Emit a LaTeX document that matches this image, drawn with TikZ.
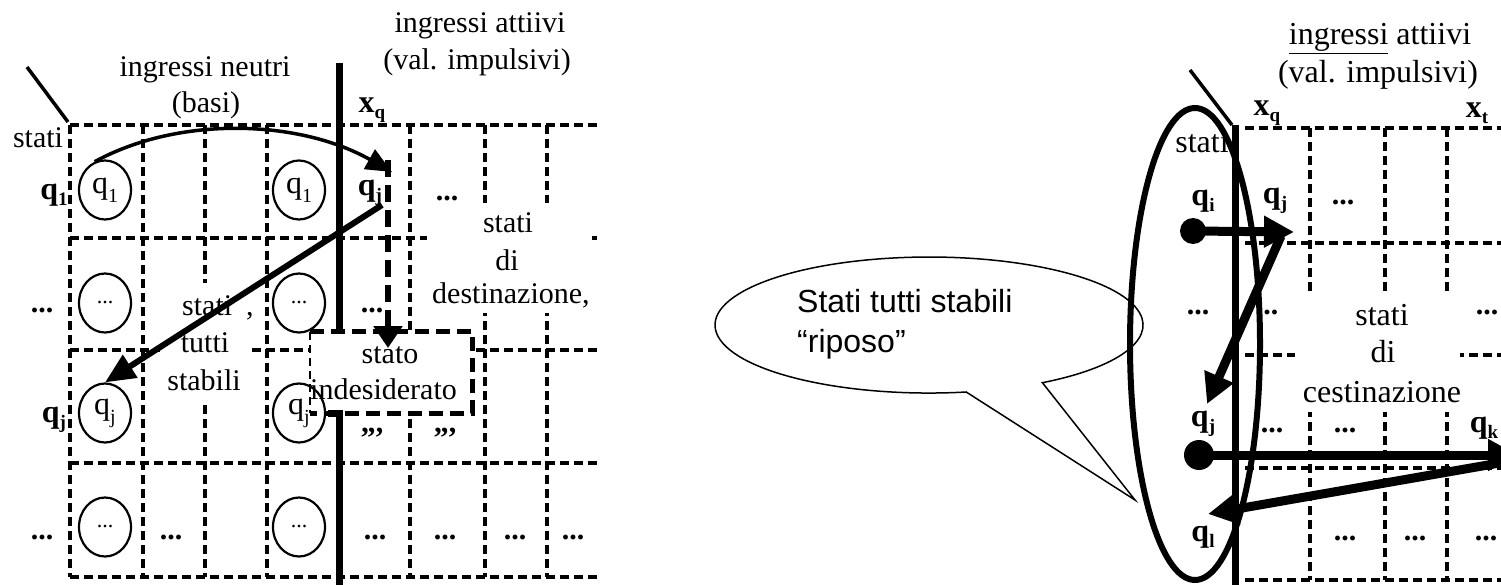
\documentclass[tikz,border=0pt]{standalone}
\usepackage{fontspec}
\setmainfont{Liberation Serif}
\newfontfamily\calloutfont{Liberation Sans}
\usetikzlibrary{arrows.meta,shapes.geometric}

% bold state label with a lowered index, e.g. q_1
\newcommand\qlab[1]{\textbf{q}\raisebox{-6pt}{\fontsize{19}{19}\selectfont\bfseries #1}}
% plain state name inside a state circle
\newcommand\qin[1]{q\raisebox{-9pt}{\fontsize{20}{20}\selectfont #1}}
% bold input label, e.g. x_q
\newcommand\xlab[1]{\textbf{x}\raisebox{-6pt}{\fontsize{19}{19}\selectfont\bfseries #1}}

\begin{document}
\begin{tikzpicture}[x=1pt,y=-1pt,
  gridline/.style={line width=3.6pt, dash pattern=on 9pt off 5pt},
  solidbar/.style={line width=7pt},
  txt/.style={inner sep=0pt, font=\fontsize{30}{32}\selectfont},
  txtr/.style={inner sep=0pt, font=\fontsize{32}{34}\selectfont},
  qbold/.style={inner sep=0pt, font=\fontsize{32}{34}\selectfont},
  dots/.style={inner sep=0pt, font=\fontsize{30}{32}\selectfont\bfseries},
  statenode/.style={draw, ellipse, line width=2.2pt, minimum width=52pt,
    minimum height=59pt, inner sep=0pt, font=\fontsize{32}{32}\selectfont},
  cover/.style={fill=white, draw=none, inner sep=0pt},
  thinarrow/.style={line width=3.5pt, -{Triangle[length=26pt, width=22pt]}},
  midarrow/.style={line width=6pt, -{Triangle[length=30pt, width=26pt]}},
  dasharrow/.style={line width=6pt, dash pattern=on 17pt off 8pt,
    -{Triangle[length=22pt, width=28pt]}},
  fatarrow/.style={line width=9pt, -{Triangle[length=30pt, width=30pt]}},
  tick/.style={line width=3.5pt},
]
\useasboundingbox (0,0) rectangle (1501,585);
\clip (0,0) rectangle (1501,585);
\fill[white] (0,0) rectangle (1501,585);

% ---------------- left table ----------------
\foreach \x in {70,143,205,267,410,485,547}
  \draw[gridline] (\x,125) -- (\x,577);
\foreach \y in {125,238,350,463,577}
  \draw[gridline] (70,\y) -- (600,\y);

\node[dots] (d22) at (170,310) {...};

% white areas behind the inner texts
\node[cover, minimum width=90pt, minimum height=122pt] (stbg) at (205,344) {};
\node[cover, minimum width=165pt, minimum height=110pt] (destbg) at (509.5,258) {};
\node[cover, minimum width=162pt, minimum height=81pt] (undes) at (391,372.5) {};

% boundary between neutral and active inputs
\draw[solidbar] (339,63) -- (339,332);
\draw[solidbar] (328,413) -- (339,413) -- (339,585);

% box of the unwanted state
\draw[line width=2pt, dash pattern=on 8pt off 5pt] (undes.north west) -- (undes.south west);
\draw[line width=5pt, dash pattern=on 14pt off 7pt]
  (undes.north west) -- (undes.north east) -- (undes.south east) -- (undes.south west);
\node[dots] (cm1) at (372,433) {,,,};
\node[dots] (cm2) at (445,433) {,,,};

\coordinate (cornerL) at (68,122);
\coordinate (slashL) at (27,67);
\draw[tick] (slashL) -- (cornerL);

\node[txt, anchor=base] (neutri) at (205,77) {ingressi neutri};
\node[txt, anchor=base] (basi) at (206,113) {(basi)};
\node[txt, anchor=base] (attiviL) at (480,33) {ingressi attiivi};
\node[txt, anchor=base] (impulsL) at (477,70) {(val. impulsivi)};
\node[txt, anchor=base] (statiL) at (38,148) {stati};
\node[qbold] (xq) at (372,110) {\xlab{q}};

\node[qbold] (lq1) at (54,195) {\qlab{1}};
\node[qbold] (lqj) at (54,420) {\qlab{j}};
\node[dots] (ld2) at (42,310) {...};
\node[dots] (ld4) at (42,537) {...};

\node[statenode] (c11) at (105,190) {\qin{1}};
\node[statenode] (c14) at (299,190) {\qin{1}};
\node[statenode] (c21) at (105,303) {\fontsize{22}{22}\selectfont...};
\node[statenode] (c24) at (299,303) {\fontsize{22}{22}\selectfont...};
\node[statenode] (c31) at (105,413) {\qin{j}};
\node[statenode] (c34) at (299,413) {\qin{j}};
\node[statenode] (c41) at (105,527) {\fontsize{22}{22}\selectfont...};
\node[statenode] (c44) at (299,527) {\fontsize{22}{22}\selectfont...};

\node[qbold] (qjt) at (370,193) {\qlab{j}};
\node[dots] (d16) at (447,198) {...};
\node[dots] (d25) at (372,310) {...};
\node[dots] (d42) at (171,537) {...};
\node[dots] (d45) at (375,537) {...};
\node[dots] (d46) at (445,537) {...};
\node[dots] (d47) at (515,537) {...};
\node[dots] (d48) at (573,537) {...};

\node[txt, anchor=base west] (st1) at (182,315) {stati\hspace{14pt},};
\node[txt, anchor=base] (st2) at (205,352) {tutti};
\node[txt, anchor=base] (st3) at (204,390) {stabili};

\node[txt, anchor=base] (ds1) at (508,233) {stati};
\node[txt, anchor=base] (ds2) at (507,270) {di};
\node[txt, anchor=base west] (ds3) at (432,303) {destinazione,};

\node[txt, anchor=base] (un1) at (390,363) {stato};
\node[txt, anchor=base west] (un2) at (310,399) {indesiderato};

% transitions of the left table
\coordinate (tipq1) at (392,172);
\draw[thinarrow] (c11.110) .. controls (180,115) and (300,120) .. (tipq1);
\coordinate (qjfoot) at (382,205);
\draw[midarrow] (qjfoot) -- (c31.north);
\coordinate (ddtop) at (388,160);
\coordinate (ddtip) at (388,348);
\draw[dasharrow] (ddtop) -- (ddtip);

% ---------------- right table ----------------
\foreach \x in {1310,1385,1447}
  \draw[gridline] (\x,128) -- (\x,580);
\foreach \y in {128,243,355,468,580}
  \draw[gridline] (1245,\y) -- (1501,\y);
\node[cover, minimum width=165pt, minimum height=116pt] (destbgR) at (1377.5,354) {};

\draw[solidbar] (1235,125) -- (1235,585);
\coordinate (cornerR) at (1232,125);
\coordinate (slashR) at (1190,70);
\draw[tick] (slashR) -- (cornerR);

\node[txtr, anchor=base] (attiviR) at (1380,45) {\underline{ingressi} attiivi};
\node[txtr, anchor=base] (impulsR) at (1378,83) {(val. impulsivi)};
\node[qbold] (xqR) at (1267,113) {\xlab{q}};
\node[qbold] (xtR) at (1477,113) {\xlab{t}};
\node[txtr, anchor=base] (statiR) at (1202,153) {stati};

\node[qbold] (rqi) at (1203,201) {\qlab{i}};
\node[qbold] (rqj) at (1275,201) {\qlab{j}};
\node[dots] (r13) at (1343,202) {...};
\node[dots] (r21) at (1198,312) {...};
\node[dots] (r22) at (1267,312) {...};
\node[dots] (r25) at (1487,312) {...};
\node[qbold] (rqj3) at (1203,424) {\qlab{j}};
\node[dots] (r32) at (1272,430) {...};
\node[dots] (r33) at (1345,430) {...};
\node[qbold] (rqk) at (1484,428) {\qlab{k}};
\node[qbold] (rql) at (1203,537) {\qlab{l}};
\node[dots] (r43) at (1345,538) {...};
\node[dots] (r44) at (1415,538) {...};
\node[dots] (r45) at (1486,538) {...};

\node[txtr, anchor=base] (rds1) at (1382,325) {stati};
\node[txtr, anchor=base] (rds2) at (1383,362) {di};
\node[txtr, anchor=base] (rds3) at (1382,402) {cestinazione};

% transitions of the right table
\node[circle, fill, inner sep=0pt, minimum size=26pt] (dotI) at (1193,231) {};
\node[circle, fill, inner sep=0pt, minimum size=30pt] (dotJ) at (1199,455) {};
\coordinate (hitJ) at (1294,232);
\draw[fatarrow] (dotI.center) -- (hitJ);
\coordinate (fromJ) at (1281,236);
\coordinate (toJ) at (1207,404);
\draw[fatarrow] (fromJ) -- (toJ);
\coordinate (qkin) at (1518,455);
\draw[fatarrow] (dotJ.center) -- (qkin);
\coordinate (qkout) at (1505,462);
\coordinate (qlin) at (1208,514);
\draw[fatarrow] (qkout) -- (qlin);

% group of the rest states
\node[draw, ellipse, line width=6pt, minimum width=130pt, minimum height=472pt,
  inner sep=0pt] (rest) at (1195,344) {};

% speech bubble
\coordinate (tailB) at (1042.4,382.7);
\coordinate (tailtip) at (1135,500);
\coordinate (tailA) at (966.2,392);
\draw[line width=1.5pt, line join=miter] (tailB) -- (tailtip) -- (tailA)
  arc[start angle=80, end angle=418, x radius=214, y radius=68] -- cycle;
\node[inner sep=0pt, anchor=base west, font=\calloutfont\fontsize{32}{40}\selectfont]
  (bub1) at (797,312) {Stati tutti stabili};
\node[inner sep=0pt, anchor=base west, font=\calloutfont\fontsize{32}{40}\selectfont]
  (bub2) at (797,352) {“riposo”};
\end{tikzpicture}
\end{document}
